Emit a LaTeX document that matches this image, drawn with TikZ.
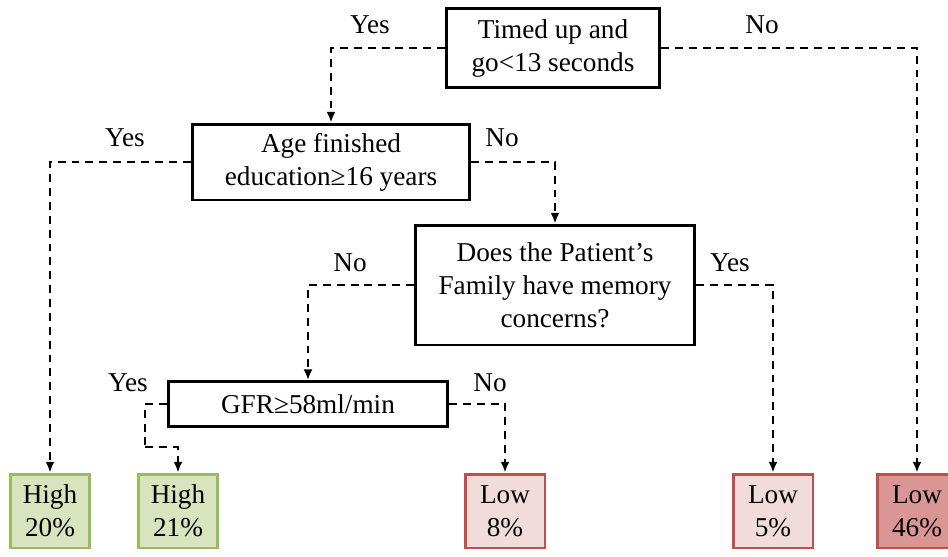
\documentclass[tikz,border=0pt]{standalone}
\usepackage{fontspec}
\setmainfont{Liberation Serif}
\usetikzlibrary{arrows.meta}
\definecolor{hiFill}{RGB}{215,228,189}
\definecolor{hiLine}{RGB}{155,187,89}
\definecolor{loFill}{RGB}{242,220,219}
\definecolor{loLine}{RGB}{192,80,77}
\definecolor{loDark}{RGB}{217,150,148}
\tikzset{
  test/.style={draw,line width=1.7pt,align=center,inner sep=0pt},
  leaf/.style={draw,line width=1.7pt,align=center,inner sep=0pt,
    minimum width=1.6cm,minimum height=1.48cm},
  high/.style={leaf,draw=hiLine,fill=hiFill},
  low/.style={leaf,draw=loLine,fill=loFill},
  conn/.style={line width=1.1pt,dash pattern=on 4.5pt off 3.4pt},
  arr/.style={conn,-{Latex[length=6pt,width=5pt]}},
  lab/.style={inner sep=0pt}
}
\begin{document}
\begin{tikzpicture}[x=0.02cm,y=-0.02cm,
  every node/.append style={font=\fontsize{15.5}{18.8}\selectfont}]
\useasboundingbox (0,0) rectangle (948,556);
% decision boxes
\node[test,minimum width=4.26cm,minimum height=1.58cm] (root) at (553,48)
  {Timed up and\\go<13 seconds};
\node[test,minimum width=5.56cm,minimum height=1.52cm] (age) at (331,162)
  {Age finished\\education≥16 years};
\node[test,minimum width=5.58cm,minimum height=2.4cm] (fam) at (555,285)
  {Does the Patient’s\\Family have memory\\concerns?};
\node[test,minimum width=5.58cm,minimum height=0.9cm] (gfr) at (308,404)
  {GFR≥58ml/min};
% outcomes
\node[high] (h20) at (50,511) {High\\20\%};
\node[high] (h21) at (178,511) {High\\21\%};
\node[low] (l8) at (505,511) {Low\\8\%};
\node[low] (l5) at (773,511) {Low\\5\%};
\node[low,fill=loDark] (l46) at (917,511) {Low\\46\%};
\coordinate (gbend) at (145,447);
% connectors
\draw[arr] (root.west) -| (age.north);
\draw[arr] (root.east) -| (l46.north);
\draw[arr] (age.west) -| (h20.north);
\draw[arr] (age.east) -| (fam.north);
\draw[arr] (fam.west) -| (gfr.north);
\draw[arr] (fam.east) -| (l5.north);
\draw[conn] (gfr.west) -| (gbend);
\draw[arr] (gbend) -| (h21.north);
\draw[arr] (gfr.east) -| (l8.north);
% branch labels
\foreach \x/\y/\t in {370/25/Yes, 762/25/No, 125/138/Yes, 502/138/No,
    350/263/No, 730/263/Yes, 128/383/Yes, 490/383/No}
  \node[lab] at (\x,\y) {\t};
\end{tikzpicture}
\end{document}
